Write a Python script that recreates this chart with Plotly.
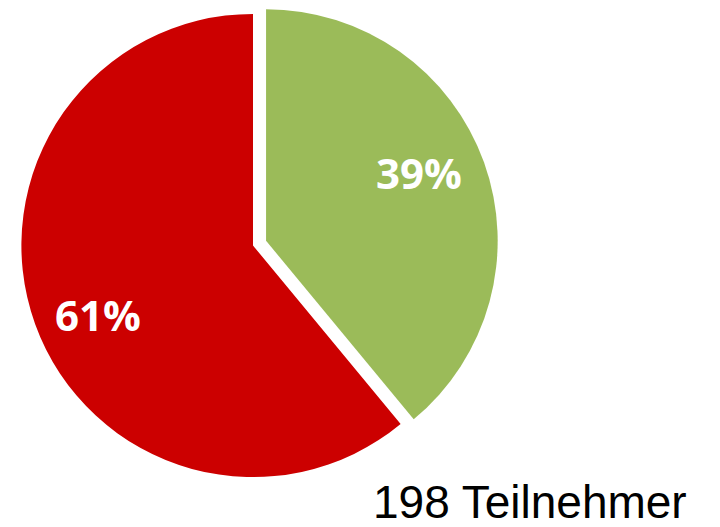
import math
import plotly.graph_objects as go

labels = ["Ja", "Nein"]
values = [39, 61]
colors = ["#9BBB59", "#CC0000"]
pulls = [0.06, 0]
participants_note = "198 Teilnehmer"

W, H = 720, 527
dom_x = [7 / W, 499 / W]
dom_y = [36 / H, 1.0]
label_radius = [0.725, 0.733]
label_angle_shift = -4.0  # degrees

fig = go.Figure(go.Pie(
    labels=labels,
    values=values,
    sort=False,
    direction="clockwise",
    rotation=0,
    pull=pulls,
    marker=dict(colors=colors, line=dict(width=0)),
    textinfo="none",
    hoverinfo="skip",
    showlegend=False,
    domain=dict(x=dom_x, y=dom_y),
))

# percentage labels, placed along each slice's bisector (same geometry plotly uses)
w_px = W * (dom_x[1] - dom_x[0])
h_px = H * (dom_y[1] - dom_y[0])
r = min(w_px, h_px) / 2 / (1 + max(pulls))
cx = W * (dom_x[0] + dom_x[1]) / 2
cy = H * (1 - dom_y[0]) - h_px / 2
total = sum(values)
cum = 0
for v, p, lr in zip(values, pulls, label_radius):
    mid = (cum + v / 2) / total * 2 * math.pi + math.radians(label_angle_shift)
    cum += v
    sx, sy = math.sin(mid), -math.cos(mid)
    px = cx + (p + lr) * r * sx
    py = cy + (p + lr) * r * sy
    fig.add_annotation(
        text=f"{round(100 * v / total)}%",
        xref="paper", yref="paper",
        x=px / W, y=1 - py / H,
        xanchor="center", yanchor="middle",
        showarrow=False,
        font=dict(family="Open Sans", size=42, color="white", weight="bold"),
    )

fig.add_annotation(
    text=participants_note,
    xref="paper", yref="paper",
    x=372 / W, y=1 - 502 / H,
    xanchor="left", yanchor="middle",
    showarrow=False,
    borderpad=0,
    font=dict(family="Liberation Sans, Arial", size=46, color="black"),
)

fig.update_layout(
    width=W, height=H,
    margin=dict(l=0, r=0, t=0, b=0),
    paper_bgcolor="white",
    plot_bgcolor="white",
)

fig.write_html("out.html", config={"displayModeBar": False},
               post_script="document.body.style.margin='0';")
